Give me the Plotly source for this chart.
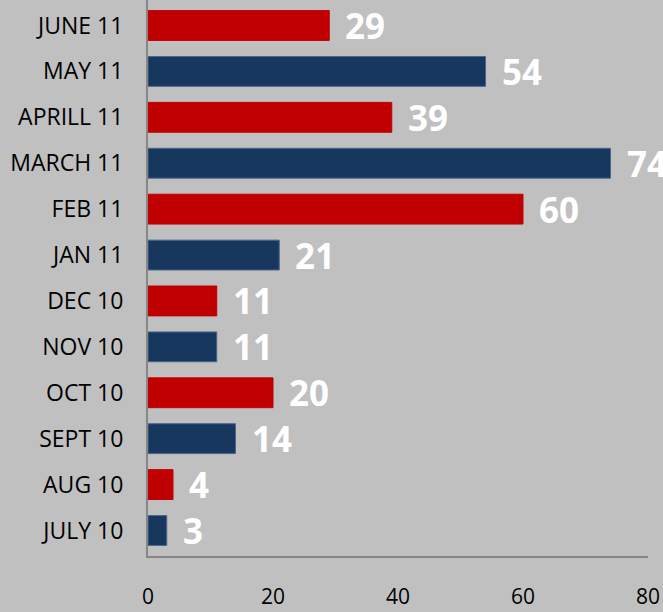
import plotly.graph_objects as go

categories = ["JULY 10", "AUG 10", "SEPT 10", "OCT 10", "NOV 10", "DEC 10",
              "JAN 11", "FEB 11", "MARCH 11", "APRILL 11", "MAY 11", "JUNE 11"]
values = [3, 4, 14, 20, 11, 11, 21, 60, 74, 39, 54, 29]
x_ticks = [0, 20, 40, 60, 80]

RED = "#C00000"
NAVY = "#17375E"
colors = [NAVY if i % 2 == 0 else RED for i in range(len(categories))]
lines = ["#4A6688" if c == NAVY else RED for c in colors]

fig = go.Figure()
fig.add_trace(go.Bar(
    y=categories, x=values, orientation="h",
    marker=dict(color=colors, line=dict(color=lines, width=1)),
    hoverinfo="skip",
))

for c, v in zip(categories, values):
    fig.add_annotation(
        x=v, y=c, text=f"<b>{v}</b>", showarrow=False,
        xanchor="left", yanchor="middle", xshift=14, yshift=0,
        font=dict(family="Open Sans", size=35, color="white"),
    )

fig.update_layout(
    width=663, height=612,
    margin=dict(l=148, r=15, t=0, b=56),
    paper_bgcolor="#C0C0C0", plot_bgcolor="#C0C0C0",
    bargap=0.35, showlegend=False,
)
fig.update_xaxes(
    range=[0, 80], tickvals=x_ticks, showgrid=False, zeroline=False,
    showline=True, linecolor="#868686", linewidth=2,
    tickfont=dict(family="Open Sans", size=21, color="black"),
    ticks="outside", ticklen=21, tickcolor="rgba(0,0,0,0)",
)
fig.update_yaxes(
    categoryorder="array", categoryarray=categories,
    showgrid=False, zeroline=False,
    showline=True, linecolor="#868686", linewidth=2,
    tickfont=dict(family="Open Sans", size=23, color="black"),
    ticks="outside", ticklen=18, tickcolor="rgba(0,0,0,0)",
)

fig.write_html("out.html", config={"displayModeBar": False},
               post_script="document.body.style.margin='0';")
